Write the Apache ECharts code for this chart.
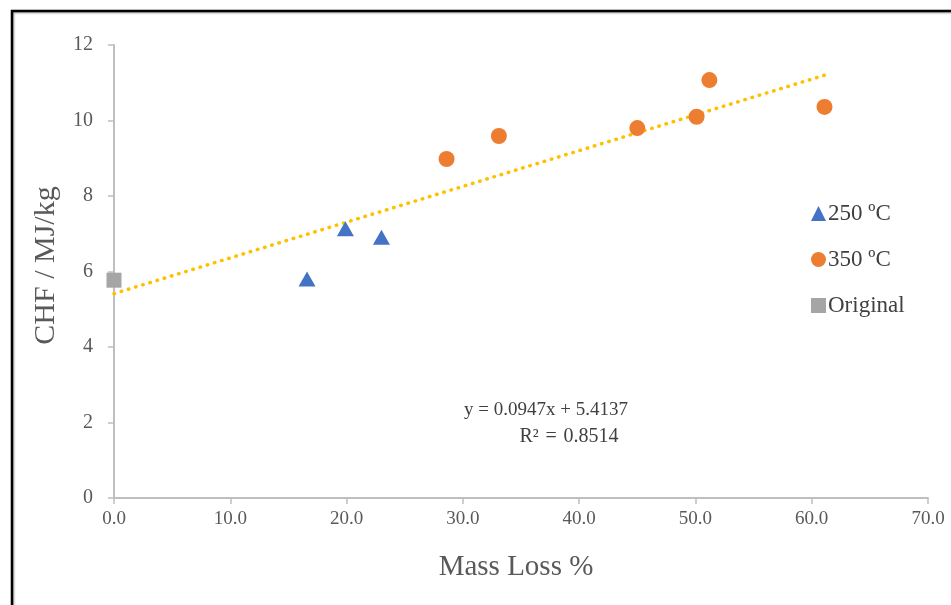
<!DOCTYPE html>
<html>
<head>
<meta charset="utf-8">
<script src="https://cdn.jsdelivr.net/npm/echarts@6/dist/echarts.min.js"></script>
<style>
  html, body { margin: 0; padding: 0; background: #fff; }
  #chart { width: 951px; height: 605px; }
</style>
</head>
<body>
<div id="chart"></div>
<script>
// Mass loss (%) and calorific value (MJ/kg) per treatment
const series250 = [[16.6, 5.8], [19.9, 7.13], [23.0, 6.91]];
const series350 = [[28.6, 8.98], [33.1, 9.59], [45.0, 9.8], [50.1, 10.1], [51.2, 11.07], [61.1, 10.36]];
const seriesOriginal = [[0, 5.77]];
const seriesNames = ['250 ºC', '350 ºC', 'Original'];

// Linear fit over all points
const slope = 0.0947;
const intercept = 5.4137;
const rSquared = 0.8514;

const xTicks = { min: 0, max: 70, interval: 10 };
const yTicks = { min: 0, max: 12, interval: 2 };

const allX = [...series250, ...series350, ...seriesOriginal].map(p => p[0]);
const fitStart = Math.min(...allX);
const fitEnd = Math.max(...allX);
const fitLine = [[fitStart, slope * fitStart + intercept], [fitEnd, slope * fitEnd + intercept]];

const serif = '"Liberation Serif", "Times New Roman", serif';
const chart = echarts.init(document.getElementById('chart'), null, { renderer: 'canvas' });

chart.setOption({
  animation: false,
  backgroundColor: '#ffffff',
  textStyle: { fontFamily: serif },
  grid: { left: 114, right: 23, top: 45, bottom: 107, containLabel: false },
  xAxis: {
    type: 'value',
    min: xTicks.min, max: xTicks.max, interval: xTicks.interval,
    name: 'Mass Loss %',
    nameLocation: 'middle',
    nameGap: 55,
    nameTextStyle: { fontFamily: serif, fontSize: 29, color: '#595959', padding: [0, 10, 0, 0] },
    axisLine: { show: true, lineStyle: { color: '#bfbfbf', width: 2 } },
    axisTick: { show: true, length: 6, lineStyle: { color: '#bfbfbf', width: 1.5 } },
    axisLabel: { fontFamily: serif, fontSize: 19, color: '#595959', margin: 12, formatter: v => v.toFixed(1) },
    splitLine: { show: false }
  },
  yAxis: {
    type: 'value',
    min: yTicks.min, max: yTicks.max, interval: yTicks.interval,
    name: 'CHF / MJ/kg',
    nameLocation: 'middle',
    nameGap: 53,
    nameTextStyle: { fontFamily: serif, fontSize: 30, color: '#595959', padding: [0, 0, 0, 12] },
    axisLine: { show: true, lineStyle: { color: '#bfbfbf', width: 2 } },
    axisTick: { show: true, length: 6, lineStyle: { color: '#bfbfbf', width: 1.5 } },
    axisLabel: { fontFamily: serif, fontSize: 20, color: '#595959', margin: 21 },
    splitLine: { show: false }
  },
  legend: {
    orient: 'vertical',
    left: 806,
    top: 197,
    itemGap: 23,
    itemWidth: 15,
    itemHeight: 15,
    textStyle: { fontFamily: serif, fontSize: 23, color: '#404040', padding: [0, 0, 0, -3] },
    data: [
      { name: seriesNames[0], icon: 'triangle' },
      { name: seriesNames[1], icon: 'circle' },
      { name: seriesNames[2], icon: 'rect' }
    ]
  },
  series: [
    {
      name: 'fit',
      type: 'line',
      data: fitLine,
      symbol: 'none',
      silent: true,
      z: 1,
      lineStyle: { color: '#ffc000', width: 3.5, type: [0.5, 7], cap: 'round' }
    },
    {
      name: seriesNames[0],
      type: 'scatter',
      data: series250,
      symbol: 'triangle',
      symbolSize: [17, 15],
      itemStyle: { color: '#4472c4', opacity: 1 },
      z: 3
    },
    {
      name: seriesNames[1],
      type: 'scatter',
      data: series350,
      symbol: 'circle',
      symbolSize: 16,
      itemStyle: { color: '#ed7d31', opacity: 1 },
      z: 3
    },
    {
      name: seriesNames[2],
      type: 'scatter',
      data: seriesOriginal,
      symbol: 'rect',
      symbolSize: 15,
      itemStyle: { color: '#a5a5a5', opacity: 1 },
      z: 3
    }
  ],
  graphic: [
    {
      type: 'rect',
      shape: { x: 12, y: 11, width: 1000, height: 700 },
      style: { fill: 'none', stroke: '#000000', lineWidth: 2.5, shadowColor: 'rgba(0,0,0,0.35)', shadowBlur: 2, shadowOffsetX: 1, shadowOffsetY: 1 },
      silent: true,
      z: 10
    },
    {
      type: 'text',
      x: 546, y: 410,
      style: {
        text: 'y = ' + slope.toFixed(4) + 'x + ' + intercept.toFixed(4),
        fontFamily: serif, fontSize: 19, fill: '#404040',
        textAlign: 'center', textVerticalAlign: 'middle'
      },
      z: 5
    },
    {
      type: 'text',
      x: 569, y: 437,
      style: {
        text: 'R²\u2004=\u2004' + rSquared.toFixed(4),
        fontFamily: serif, fontSize: 20, fill: '#404040',
        textAlign: 'center', textVerticalAlign: 'middle'
      },
      z: 5
    }
  ]
});
</script>
</body>
</html>
